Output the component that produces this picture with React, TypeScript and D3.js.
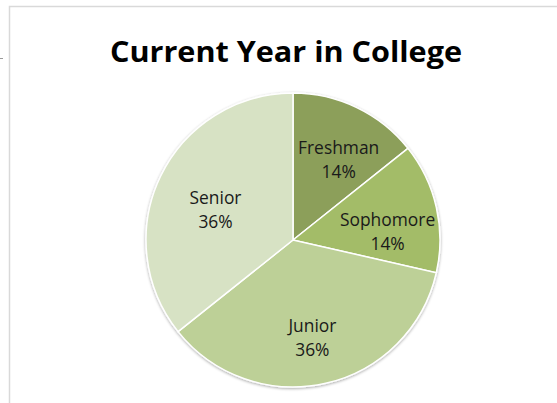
import React from "react";
import * as d3 from "d3";

const categories = ["Freshman", "Sophomore", "Junior", "Senior"];
const values = [4, 4, 10, 10];
const colors = ["#8c9f5a", "#a3bc68", "#bdd097", "#d7e2c4"];
const title = "Current Year in College";

const W = 557;
const H = 403;

export default function App() {
  const cx = 293;
  const cy = 240;
  const R = 147;
  const pie = d3.pie<number>().sort(null).value((d) => d)(values);
  const arc = d3.arc<d3.PieArcDatum<number>>().innerRadius(0).outerRadius(R);
  const labelArc = d3
    .arc<d3.PieArcDatum<number>>()
    .innerRadius(96)
    .outerRadius(96);
  const total = d3.sum(values);
  const fmt = (v: number) => `${Math.round((v / total) * 100)}%`;
  // best-fit label nudges (Excel-style placement)
  const nudge: [number, number][] = [
    [4, 2],
    [1, 9],
    [-2, 0],
    [9, 8],
  ];
  return (
    <svg
      width={W}
      height={H}
      style={{ position: "absolute", left: 0, top: 0, display: "block" }}
      fontFamily="Open Sans, Lato, sans-serif"
    >
      <defs>
        <filter id="sh" x="-10%" y="-10%" width="120%" height="120%">
          <feGaussianBlur in="SourceAlpha" stdDeviation="1.5" />
          <feOffset dx="0" dy="1" />
          <feComponentTransfer>
            <feFuncA type="linear" slope="0.35" />
          </feComponentTransfer>
          <feMerge>
            <feMergeNode />
            <feMergeNode in="SourceGraphic" />
          </feMerge>
        </filter>
      </defs>
      <rect x={0} y={0} width={W} height={H} fill="#ffffff" />
      <rect
        x={9.5}
        y={6.5}
        width={W + 20}
        height={H + 20}
        fill="#ffffff"
        stroke="#d9d9d9"
        strokeWidth={1.5}
      />
      <line x1={0} x2={3} y1={58.5} y2={58.5} stroke="#999" strokeWidth={1} />
      <text
        x={286}
        y={62}
        textAnchor="middle"
        fontWeight="bold"
        fontSize={29}
        fill="#000"
        textLength={352}
        lengthAdjust="spacingAndGlyphs"
      >
        {title}
      </text>
      <g transform={`translate(${cx},${cy})`}>
        <g filter="url(#sh)">
          {pie.map((p, i) => (
            <path
              key={categories[i]}
              d={arc(p) || ""}
              fill={colors[i]}
              stroke="#ffffff"
              strokeWidth={1.5}
            />
          ))}
        </g>
        {pie.map((p, i) => {
          const [cx0, cy0] = labelArc.centroid(p);
          const x = cx0 + nudge[i][0];
          const y = cy0 + nudge[i][1];
          return (
            <text
              key={"l" + i}
              x={x}
              y={y}
              textAnchor="middle"
              fontSize={17.4}
              fill="#1a1a1a"
            >
              <tspan x={x} dy={-2}>
                {categories[i]}
              </tspan>
              <tspan x={x} dy={24}>
                {fmt(values[i])}
              </tspan>
            </text>
          );
        })}
      </g>
    </svg>
  );
}
